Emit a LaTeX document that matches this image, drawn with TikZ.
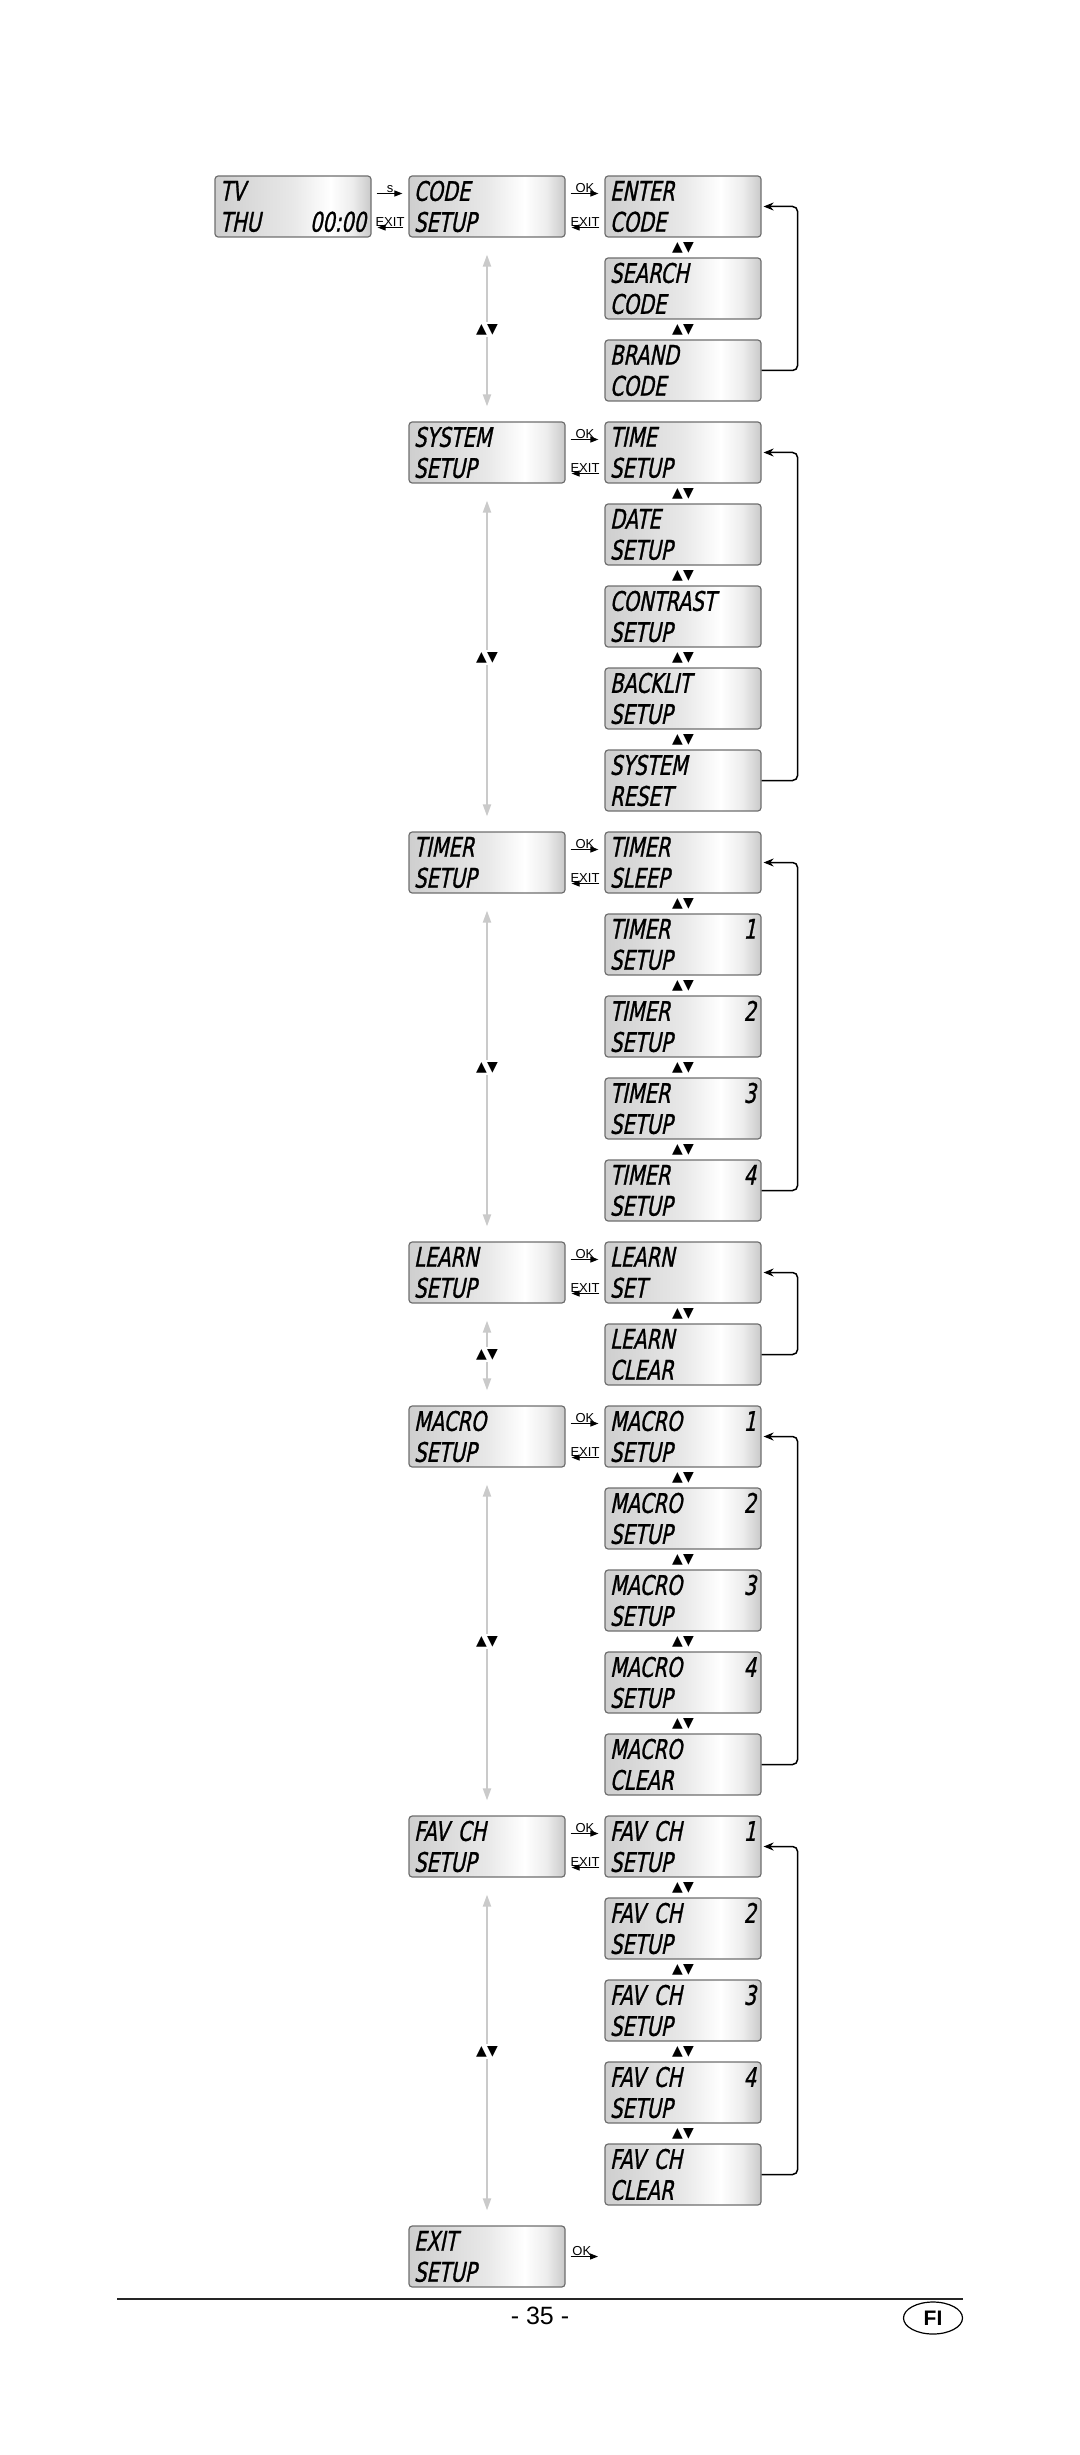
\documentclass[tikz,border=0pt]{standalone}
\usepackage{fontspec}
\setmainfont{Liberation Sans}
\newfontfamily\lcdfont{DejaVu Sans}[FakeSlant=0.2,FakeStretch=0.72,FakeBold=1]
\newfontfamily\symfont{DejaVu Sans}
\usepackage{tikz}
\usetikzlibrary{arrows.meta,shapes.geometric}
\definecolor{lcdframe}{HTML}{6E6E6E}
\definecolor{navgray}{HTML}{CACACA}
\pgfdeclarehorizontalshading{lcdshade}{100bp}{color(0bp)=(black!19); color(25bp)=(black!19); color(50bp)=(black!9); color(62bp)=(white); color(69bp)=(black!7); color(75bp)=(black!21); color(100bp)=(black!21)}

\begin{document}
\begin{tikzpicture}[
    x=0.5pt, y=-0.5pt,
    every node/.style={font=\small},
    lcd/.style={
        rectangle,
        rounded corners=1.6pt,
        draw=lcdframe,
        line width=0.6pt,
        shade,
        shading=lcdshade,
        minimum width=78pt,
        minimum height=30.5pt,
        text width=73pt,
        inner xsep=2.5pt,
        inner ysep=0pt,
        align=left,
        font=\lcdfont\fontsize{13.5}{15.5}\selectfont
    },
    keyarrow/.style={-{Triangle[length=4pt,width=3pt]}, line width=0.5pt, shorten <=2.5pt, shorten >=3pt},
    keylbl/.style={above, inner sep=0.4pt, font=\fontsize{6.5}{7}\selectfont},
    updown/.style={inner sep=1.2pt, text=black, font=\symfont\fontsize{7}{7}\selectfont},
    navline/.style={{Triangle[length=6pt,width=4pt]}-{Triangle[length=6pt,width=4pt]}, navgray, line width=1pt, shorten <=8.5pt, shorten >=7.5pt},
    backline/.style={-{Stealth[length=5pt,width=4pt]}, line width=0.75pt, rounded corners=2.5pt, shorten >=1pt}
]
    \useasboundingbox (0,0) rectangle (1080,2455);

    % === TV display and first menu ===
    \node[lcd] (tv) at (293,206.5) {TV\\THU\hfill 00:00};
    \node[lcd] (code) at (487,206.5) {CODE\\SETUP};
    \draw[keyarrow] ([yshift=6.5pt]tv.east) -- node[keylbl]{s} ([yshift=6.5pt]code.west);
    \draw[keyarrow] ([yshift=-10.5pt]code.west) -- node[keylbl]{EXIT} ([yshift=-10.5pt]tv.east);

    % code setup
    \node[lcd] (enter) at (683,206.5) {ENTER\\CODE};
    \node[lcd] (search) at (683,288.5) {SEARCH\\CODE};
    \node[lcd] (brand) at (683,370.5) {BRAND\\CODE};
    \path (enter) -- node[updown]{▲▼} (search);
    \path (search) -- node[updown]{▲▼} (brand);
    \draw[keyarrow] ([yshift=6.5pt]code.east) -- node[keylbl]{OK} ([yshift=6.5pt]enter.west);
    \draw[keyarrow] ([yshift=-10.5pt]enter.west) -- node[keylbl]{EXIT} ([yshift=-10.5pt]code.east);
    \draw[backline] (brand.east) -- ++(36,0) |- (enter.east);

    % === SYSTEM SETUP ===
    \node[lcd] (system) at (487,452.5) {SYSTEM\\SETUP};
    \node[lcd] (time) at (683,452.5) {TIME\\SETUP};
    \node[lcd] (date) at (683,534.5) {DATE\\SETUP};
    \node[lcd] (contrast) at (683,616.5) {CONTRAST\\SETUP};
    \node[lcd] (backlit) at (683,698.5) {BACKLIT\\SETUP};
    \node[lcd] (reset) at (683,780.5) {SYSTEM\\RESET};
    \path (time) -- node[updown]{▲▼} (date);
    \path (date) -- node[updown]{▲▼} (contrast);
    \path (contrast) -- node[updown]{▲▼} (backlit);
    \path (backlit) -- node[updown]{▲▼} (reset);
    \draw[keyarrow] ([yshift=6.5pt]system.east) -- node[keylbl]{OK} ([yshift=6.5pt]time.west);
    \draw[keyarrow] ([yshift=-10.5pt]time.west) -- node[keylbl]{EXIT} ([yshift=-10.5pt]system.east);
    \draw[backline] (reset.east) -- ++(36,0) |- (time.east);

    % === TIMER SETUP ===
    \node[lcd] (timer) at (487,862.5) {TIMER\\SETUP};
    \node[lcd] (sleep) at (683,862.5) {TIMER\\SLEEP};
    \node[lcd] (tmone) at (683,944.5) {TIMER\hfill 1\hspace*{1.5pt}\\SETUP};
    \node[lcd] (tmtwo) at (683,1026.5) {TIMER\hfill 2\hspace*{1.5pt}\\SETUP};
    \node[lcd] (tmthree) at (683,1108.5) {TIMER\hfill 3\hspace*{1.5pt}\\SETUP};
    \node[lcd] (tmfour) at (683,1190.5) {TIMER\hfill 4\hspace*{1.5pt}\\SETUP};
    \path (sleep) -- node[updown]{▲▼} (tmone);
    \path (tmone) -- node[updown]{▲▼} (tmtwo);
    \path (tmtwo) -- node[updown]{▲▼} (tmthree);
    \path (tmthree) -- node[updown]{▲▼} (tmfour);
    \draw[keyarrow] ([yshift=6.5pt]timer.east) -- node[keylbl]{OK} ([yshift=6.5pt]sleep.west);
    \draw[keyarrow] ([yshift=-10.5pt]sleep.west) -- node[keylbl]{EXIT} ([yshift=-10.5pt]timer.east);
    \draw[backline] (tmfour.east) -- ++(36,0) |- (sleep.east);

    % === LEARN SETUP ===
    \node[lcd] (learn) at (487,1272.5) {LEARN\\SETUP};
    \node[lcd] (lset) at (683,1272.5) {LEARN\\SET};
    \node[lcd] (lclear) at (683,1354.5) {LEARN\\CLEAR};
    \path (lset) -- node[updown]{▲▼} (lclear);
    \draw[keyarrow] ([yshift=6.5pt]learn.east) -- node[keylbl]{OK} ([yshift=6.5pt]lset.west);
    \draw[keyarrow] ([yshift=-10.5pt]lset.west) -- node[keylbl]{EXIT} ([yshift=-10.5pt]learn.east);
    \draw[backline] (lclear.east) -- ++(36,0) |- (lset.east);

    % === MACRO SETUP ===
    \node[lcd] (macro) at (487,1436.5) {MACRO\\SETUP};
    \node[lcd] (mcone) at (683,1436.5) {MACRO\hfill 1\hspace*{1.5pt}\\SETUP};
    \node[lcd] (mctwo) at (683,1518.5) {MACRO\hfill 2\hspace*{1.5pt}\\SETUP};
    \node[lcd] (mcthree) at (683,1600.5) {MACRO\hfill 3\hspace*{1.5pt}\\SETUP};
    \node[lcd] (mcfour) at (683,1682.5) {MACRO\hfill 4\hspace*{1.5pt}\\SETUP};
    \node[lcd] (mclear) at (683,1764.5) {MACRO\\CLEAR};
    \path (mcone) -- node[updown]{▲▼} (mctwo);
    \path (mctwo) -- node[updown]{▲▼} (mcthree);
    \path (mcthree) -- node[updown]{▲▼} (mcfour);
    \path (mcfour) -- node[updown]{▲▼} (mclear);
    \draw[keyarrow] ([yshift=6.5pt]macro.east) -- node[keylbl]{OK} ([yshift=6.5pt]mcone.west);
    \draw[keyarrow] ([yshift=-10.5pt]mcone.west) -- node[keylbl]{EXIT} ([yshift=-10.5pt]macro.east);
    \draw[backline] (mclear.east) -- ++(36,0) |- (mcone.east);

    % === FAV CH SETUP ===
    \node[lcd] (fav) at (487,1846.5) {FAV CH\\SETUP};
    \node[lcd] (fvone) at (683,1846.5) {FAV CH\hfill 1\hspace*{1.5pt}\\SETUP};
    \node[lcd] (fvtwo) at (683,1928.5) {FAV CH\hfill 2\hspace*{1.5pt}\\SETUP};
    \node[lcd] (fvthree) at (683,2010.5) {FAV CH\hfill 3\hspace*{1.5pt}\\SETUP};
    \node[lcd] (fvfour) at (683,2092.5) {FAV CH\hfill 4\hspace*{1.5pt}\\SETUP};
    \node[lcd] (fclear) at (683,2174.5) {FAV CH\\CLEAR};
    \path (fvone) -- node[updown]{▲▼} (fvtwo);
    \path (fvtwo) -- node[updown]{▲▼} (fvthree);
    \path (fvthree) -- node[updown]{▲▼} (fvfour);
    \path (fvfour) -- node[updown]{▲▼} (fclear);
    \draw[keyarrow] ([yshift=6.5pt]fav.east) -- node[keylbl]{OK} ([yshift=6.5pt]fvone.west);
    \draw[keyarrow] ([yshift=-10.5pt]fvone.west) -- node[keylbl]{EXIT} ([yshift=-10.5pt]fav.east);
    \draw[backline] (fclear.east) -- ++(36,0) |- (fvone.east);

    % === EXIT SETUP ===
    \node[lcd] (exit) at (487,2256.5) {EXIT\\SETUP};
    \coordinate (exitend) at (598,2256.5);
    \draw[keyarrow, shorten >=0pt] (exit.east) -- node[keylbl]{OK} (exitend);

    % up/down between main menus
    \draw[navline] (code) -- node[updown, fill=white]{▲▼} (system);
    \draw[navline] (system) -- node[updown, fill=white]{▲▼} (timer);
    \draw[navline] (timer) -- node[updown, fill=white]{▲▼} (learn);
    \draw[navline] (learn) -- node[updown, fill=white]{▲▼} (macro);
    \draw[navline] (macro) -- node[updown, fill=white]{▲▼} (fav);
    \draw[navline] (fav) -- node[updown, fill=white]{▲▼} (exit);

    % page footer
    \draw[line width=1pt, black!85] (117,2299) -- (963,2299);
    \node[font=\fontsize{12.5}{14}\selectfont] (page) at (540,2316) {- 35 -};
    \node[ellipse, draw, line width=0.6pt, minimum width=29.5pt, minimum height=16pt, inner sep=0pt, font=\bfseries\fontsize{10.5}{12}\selectfont] (lang) at (933,2318) {FI};
\end{tikzpicture}
\end{document}
